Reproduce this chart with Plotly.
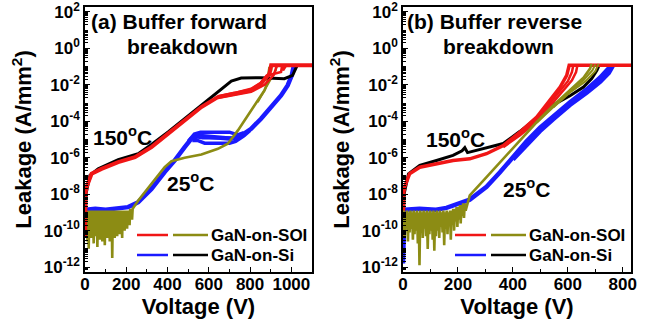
import numpy as np
import plotly.graph_objects as go

W, H = 647, 324

# ---------------- data (voltage in V, leakage as log10(A/mm^2)) ----------------
# Panel (a): buffer forward breakdown
a_red_v = [0, 1, 3, 8, 32, 80, 161, 242, 322, 403, 483, 564, 644, 725, 805, 853, 894, 902, 1100]
a_red_log = [-10.3, -8.6, -7.9, -7.6, -6.88, -6.61, -6.24, -5.97, -5.42, -4.68, -3.95, -3.22, -2.67, -2.49, -2.30, -1.94, -1.39, -0.93, -0.93]
a_red_b_v = [644, 725, 805, 870, 915, 925, 930]
a_red_b_log = [-2.72, -2.55, -2.38, -2.00, -1.45, -1.10, -0.93]
a_red_c_v = [644, 725, 805, 850, 880, 950, 955, 960, 975]
a_red_c_log = [-2.62, -2.44, -2.22, -1.90, -1.50, -1.30, -0.95, -1.20, -0.93]

a_black_v = [0, 5, 24, 64, 161, 258, 322, 403, 483, 564, 644, 709, 757, 853, 966, 1006, 1026]
a_black_log = [-10.0, -7.98, -6.97, -6.61, -6.11, -5.78, -5.27, -4.59, -3.86, -3.13, -2.36, -1.79, -1.63, -1.61, -1.66, -1.48, -0.99]

a_blue_v = [0, 3, 10, 50, 100, 150, 209, 258, 322, 386, 435, 483, 515, 547, 709, 757, 805, 853, 902, 950, 982, 1002, 1011]
a_blue_log = [-10.0, -9.0, -8.85, -8.8, -8.85, -8.8, -8.71, -8.44, -7.71, -6.79, -6.15, -5.42, -4.96, -4.80, -4.96, -4.78, -4.41, -3.86, -3.22, -2.58, -2.03, -1.48, -0.99]
a_blue_b_v = [500, 530, 560, 700, 740, 770]
a_blue_b_log = [-5.10, -4.70, -4.60, -4.60, -4.75, -4.62]
a_blue_c_v = [520, 545, 580, 700, 730, 770, 800]
a_blue_c_log = [-5.05, -5.05, -5.20, -5.20, -5.10, -4.80, -4.50]
a_blue_d_v = [510, 540, 570, 700, 735, 765]
a_blue_d_log = [-5.00, -4.85, -4.90, -4.90, -4.92, -4.70]

a_olive_noise_v = [0, 3, 6, 9, 12, 15, 18, 21, 24, 27, 30, 33, 36, 39, 42, 45, 48, 51, 54, 57,
                   60, 63, 66, 69, 72, 75, 78, 81, 84, 87, 90, 93, 96, 99, 102, 105, 108, 111, 114, 117,
                   120, 123, 126, 129, 132, 135, 138, 141, 144, 147, 150, 153, 156, 159, 162, 165, 168, 171, 174, 177,
                   180, 183, 186, 189, 192, 195, 198, 201, 204, 207, 210, 213, 216, 219, 222, 225, 228, 231]
a_olive_noise_log = [-10.3, -8.9, -10.1, -9.0, -10.6, -8.9, -11.0, -9.0, -9.9, -8.9,
                     -10.4, -9.0, -10.0, -8.9, -10.7, -9.1, -9.8, -8.9, -10.3, -9.0,
                     -10.9, -8.9, -10.1, -9.0, -10.5, -8.9, -9.9, -9.0, -10.6, -8.9,
                     -10.2, -9.0, -10.8, -8.9, -9.9, -9.0, -10.4, -8.9, -10.0, -9.0,
                     -10.6, -8.9, -10.2, -9.0, -11.5, -8.9, -10.0, -9.0, -10.4, -8.9,
                     -9.8, -9.0, -10.3, -8.9, -9.7, -9.0, -10.2, -8.9, -9.6, -9.0,
                     -10.4, -8.9, -9.6, -8.9, -10.0, -8.9, -9.5, -8.9, -9.9, -8.9,
                     -9.4, -8.9, -9.7, -8.8, -9.3, -8.8, -9.4, -8.8]
a_olive_v = [258, 322, 386, 419, 483, 564, 644, 692, 741, 789, 837, 870, 882, 894, 900, 905]
a_olive_log = [-8.35, -7.43, -6.52, -6.19, -6.00, -5.82, -5.51, -5.23, -4.50, -3.68, -2.85, -2.30, -1.94, -1.02, -1.30, -0.93]
a_olive_b_v = [837, 875, 905, 925, 930]
a_olive_b_log = [-2.95, -2.20, -1.60, -1.20, -0.93]

# Panel (b): buffer reverse breakdown
b_red_v = [0, 1, 3, 6, 24, 61, 122, 182, 243, 304, 365, 426, 487, 535, 572, 596, 605, 830]
b_red_log = [-10.3, -8.6, -7.9, -7.6, -6.88, -6.52, -6.33, -6.15, -6.06, -5.78, -5.33, -4.59, -3.77, -2.85, -2.12, -1.48, -0.93, -0.93]
b_red_b_v = [365, 426, 487, 535, 572, 600, 615, 620]
b_red_b_log = [-5.36, -4.67, -3.90, -3.02, -2.35, -1.80, -1.30, -0.93]
b_red_c_v = [365, 426, 487, 535, 580, 615, 630, 635]
b_red_c_log = [-5.42, -4.77, -4.02, -3.17, -2.40, -1.75, -1.30, -0.93]

b_black_v = [0, 4, 20, 61, 122, 182, 215, 225, 235, 250, 304, 365, 426, 487, 547, 608, 657, 687, 706, 712]
b_black_log = [-10.0, -7.98, -6.88, -6.42, -6.15, -5.87, -5.62, -5.45, -5.72, -5.66, -5.45, -5.22, -4.55, -3.80, -3.10, -2.60, -2.12, -1.66, -1.21, -0.99]

b_blue_v = [0, 2, 5, 10, 60, 120, 158, 243, 304, 353, 401, 450, 499, 547, 608, 669, 718, 748, 754]
b_blue_log = [-11.8, -10.5, -9.1, -8.85, -8.8, -8.85, -8.75, -8.30, -7.60, -6.80, -5.95, -5.10, -4.35, -3.70, -2.95, -2.25, -1.60, -1.10, -0.93]
b_blue_b_v = [401, 450, 499, 547, 608, 669, 718, 750, 766]
b_blue_b_log = [-6.10, -5.30, -4.55, -3.90, -3.12, -2.45, -1.85, -1.35, -0.93]

b_olive_noise_v = [0, 3, 6, 9, 12, 15, 18, 21, 24, 27, 30, 33, 36, 39, 42, 45, 48, 51, 54, 57,
                   60, 63, 66, 69, 72, 75, 78, 81, 84, 87, 90, 93, 96, 99, 102, 105, 108, 111, 114, 117,
                   120, 123, 126, 129, 132, 135, 138, 141, 144, 147, 150, 153, 156, 159, 162, 165, 168, 171, 174, 177,
                   180, 183, 186, 189, 192, 195, 198, 201, 204, 207, 210, 213, 216, 219, 222, 225, 228]
b_olive_noise_log = [-10.0, -8.9, -10.4, -9.0, -9.8, -8.9, -10.6, -9.0, -10.1, -8.9,
                     -9.9, -9.0, -10.5, -8.9, -10.2, -9.0, -10.0, -8.9, -10.7, -9.0,
                     -11.9, -8.9, -10.1, -9.0, -10.4, -8.9, -9.9, -9.0, -10.3, -8.9,
                     -11.0, -9.0, -10.2, -8.9, -10.0, -9.0, -10.5, -8.9, -11.1, -9.0,
                     -10.3, -8.9, -10.0, -9.0, -10.4, -8.9, -9.8, -9.0, -10.1, -8.9,
                     -10.8, -9.0, -9.9, -8.9, -10.2, -9.0, -9.7, -8.9, -10.5, -8.9,
                     -9.6, -8.8, -10.0, -8.8, -9.5, -8.7, -9.8, -8.7, -9.4, -8.6,
                     -9.6, -8.6, -9.2, -8.5, -9.3, -8.5, -8.9]
b_olive_v = [243, 304, 365, 426, 487, 547, 608, 657, 681, 687]
b_olive_log = [-8.07, -7.07, -6.06, -5.05, -4.04, -3.13, -2.30, -1.61, -1.11, -0.85]
b_olive_b_v = [487, 547, 608, 657, 690, 700]
b_olive_b_log = [-4.08, -3.20, -2.35, -1.75, -1.20, -0.88]
b_olive_c_v = [547, 608, 665, 700, 712]
b_olive_c_log = [-3.25, -2.42, -1.80, -1.25, -0.85]

y_tick_exps = [2, 0, -2, -4, -6, -8, -10, -12]
x_ticks_a = [0, 200, 400, 600, 800, 1000]
x_ticks_b = [0, 200, 400, 600, 800]

legend_labels = ["GaN-on-SOI", "GaN-on-Si"]

# ---------------- styling ----------------
RED = "#f01616"
BLUE = "#1a1aff"
OLIVE = "#8c8c14"
BLACK = "#000000"
FONT = "Liberation Sans, Arial, sans-serif"


def P(x):
    return x / W


def Q(y):
    return 1 - y / H


fig = go.Figure()


def add(v, lg, color, width, xa, ya, name):
    fig.add_trace(go.Scatter(x=v, y=np.power(10.0, np.array(lg)), mode="lines",
                             line=dict(color=color, width=width), name=name,
                             showlegend=False, xaxis=xa, yaxis=ya, hoverinfo="skip"))


# panel a
add(a_blue_v, a_blue_log, BLUE, 4.5, "x", "y", "GaN-on-Si 25°C")
add(a_blue_b_v, a_blue_b_log, BLUE, 3.5, "x", "y", "GaN-on-Si 25°C")
add(a_blue_c_v, a_blue_c_log, BLUE, 3.5, "x", "y", "GaN-on-Si 25°C")
add(a_blue_d_v, a_blue_d_log, BLUE, 3.5, "x", "y", "GaN-on-Si 25°C")
add(a_olive_noise_v + a_olive_v, a_olive_noise_log + a_olive_log, OLIVE, 2.6, "x", "y", "GaN-on-SOI 25°C")
add(a_olive_b_v, a_olive_b_log, OLIVE, 2, "x", "y", "GaN-on-SOI 25°C")
add(a_black_v, a_black_log, BLACK, 3, "x", "y", "GaN-on-Si 150°C")
add(a_red_b_v, a_red_b_log, RED, 2.5, "x", "y", "GaN-on-SOI 150°C")
add(a_red_c_v, a_red_c_log, RED, 2.5, "x", "y", "GaN-on-SOI 150°C")
add(a_red_v, a_red_log, RED, 4, "x", "y", "GaN-on-SOI 150°C")

# panel b
add(b_blue_b_v, b_blue_b_log, BLUE, 4, "x2", "y2", "GaN-on-Si 25°C")
add(b_blue_v, b_blue_log, BLUE, 4.5, "x2", "y2", "GaN-on-Si 25°C")
add(b_black_v, b_black_log, BLACK, 3, "x2", "y2", "GaN-on-Si 150°C")
add(b_red_b_v, b_red_b_log, RED, 2.5, "x2", "y2", "GaN-on-SOI 150°C")
add(b_red_c_v, b_red_c_log, RED, 2.5, "x2", "y2", "GaN-on-SOI 150°C")
add(b_red_v, b_red_log, RED, 3.5, "x2", "y2", "GaN-on-SOI 150°C")
add(b_olive_noise_v + b_olive_v, b_olive_noise_log + b_olive_log, OLIVE, 2.6, "x2", "y2", "GaN-on-SOI 25°C")
add(b_olive_b_v, b_olive_b_log, OLIVE, 2, "x2", "y2", "GaN-on-SOI 25°C")
add(b_olive_c_v, b_olive_c_log, OLIVE, 2, "x2", "y2", "GaN-on-SOI 25°C")

y_tickvals = [10.0 ** e for e in y_tick_exps]
y_ticktext = ["10<sup>%d</sup>" % e for e in y_tick_exps]
y_minor = [m * 10.0 ** e for e in range(-13, 3) for m in range(2, 10)] + [10.0 ** e for e in range(-13, 3, 2)]

tickfont = dict(family=FONT, size=17, color="black", weight="bold")
titlefont = dict(family=FONT, size=22, color="black", weight="bold")

common_x = dict(showline=True, mirror=True, linecolor="black", linewidth=1.5,
                ticks="inside", ticklen=5, tickwidth=1.3, tickcolor="black",
                showgrid=False, zeroline=False, tickfont=tickfont, ticklabelstandoff=-4,
                ticklabeloverflow="allow",
                minor=dict(ticks="inside", ticklen=3, dtick=100, tick0=0, tickcolor="black", showgrid=False),
                title=dict(text="Voltage (V)", font=titlefont, standoff=2), automargin=False)
common_y = dict(type="log", range=[-12.27, 2.27], showline=True, mirror=True, linecolor="black",
                linewidth=1.5, ticks="inside", ticklen=5, tickwidth=1.3, tickcolor="black",
                showgrid=False, zeroline=False, tickfont=tickfont, ticklabeloverflow="allow",
                tickmode="array", tickvals=y_tickvals, ticktext=y_ticktext,
                minor=dict(ticks="inside", ticklen=3, tickmode="array", tickvals=y_minor,
                           tickcolor="black", showgrid=False),
                title=dict(text="Leakage (A/mm<sup>2</sup>)", font=titlefont, standoff=6),
                automargin=False)

ydom = [Q(272), Q(7)]
fig.update_layout(
    width=W, height=H, margin=dict(l=0, r=0, t=0, b=0),
    paper_bgcolor="white", plot_bgcolor="white", showlegend=False,
    font=dict(family=FONT, color="black"),
    xaxis=dict(domain=[P(85), P(312)], range=[0, 1100], tickmode="array", tickvals=x_ticks_a,
               anchor="y", **common_x),
    yaxis=dict(domain=ydom, anchor="x", **common_y),
    xaxis2=dict(domain=[P(403), P(631)], range=[0, 830], tickmode="array", tickvals=x_ticks_b,
                anchor="y2", **common_x),
    yaxis2=dict(domain=ydom, anchor="x2", **common_y),
)

annots = []


def txt(x, y, s, size, xanchor="left"):
    annots.append(dict(x=P(x), y=Q(y), xref="paper", yref="paper", text=s, showarrow=False,
                       xanchor=xanchor, yanchor="middle",
                       font=dict(family=FONT, size=size, color="black", weight="bold")))


txt(89, 22, "(a) Buffer forward", 21)
txt(125, 47, "breakdown", 21)
txt(91, 136, "150<sup>o</sup>C", 21)
txt(165, 182, "25<sup>o</sup>C", 21)
txt(405, 22, "(b) Buffer reverse", 21)
txt(441, 47, "breakdown", 21)
txt(424, 138, "150<sup>o</sup>C", 21)
txt(501, 188, "25<sup>o</sup>C", 21)

shapes = []


def seg(x0, x1, y, color):
    shapes.append(dict(type="line", xref="paper", yref="paper", x0=P(x0), x1=P(x1), y0=Q(y), y1=Q(y),
                       line=dict(color=color, width=2.5)))


for xo in (0, 318):
    seg(137 + xo, 168 + xo, 235, RED)
    seg(173 + xo, 208 + xo, 235, OLIVE)
    seg(137 + xo, 168 + xo, 255, BLUE)
    seg(173 + xo, 208 + xo, 255, BLACK)
    txt(209 + xo, 235, legend_labels[0], 17)
    txt(209 + xo, 255, legend_labels[1], 17)

fig.update_layout(annotations=annots, shapes=shapes)
fig.write_html("out.html", config={"displayModeBar": False},
               post_script="document.body.style.margin='0px';")
